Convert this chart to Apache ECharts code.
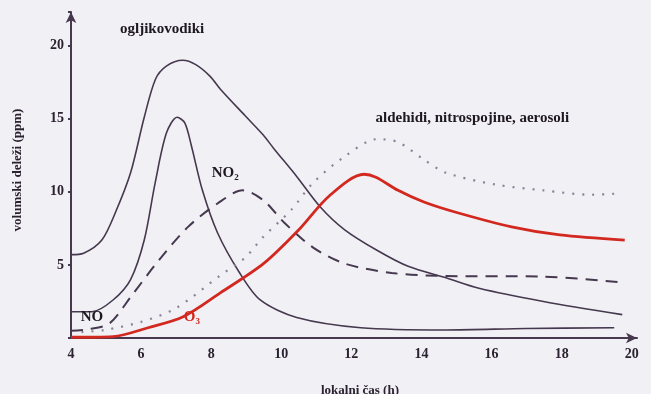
<!DOCTYPE html>
<html><head><meta charset="utf-8">
<script src="https://cdn.jsdelivr.net/npm/echarts@6/dist/echarts.min.js"></script>
<style>html,body{margin:0;padding:0;background:#f1f0f4}#c{width:651px;height:394px}</style>
</head><body><div id="c"></div>
<script>
// hours vs. ppm
const hydrocarbons = [[4,5.7],[4.36,5.8],[4.88,6.7],[5.27,8.6],[5.7,11.3],[6.09,15.1],[6.41,17.7],[6.72,18.6],[7.19,19.0],[7.56,18.7],[7.97,17.9],[8.27,17.0],[8.97,15.2],[9.48,13.9],[9.79,12.95],[10.44,11.05],[11.1,9.0],[11.81,7.4],[12.73,6.0],[13.62,4.9],[14.72,4.1],[15.64,3.4],[17.48,2.5],[19.73,1.6]];
const no = [[4,1.8],[4.6,1.8],[5.2,2.6],[5.7,4.0],[6.09,6.7],[6.4,10.6],[6.72,14.0],[7.03,15.1],[7.25,14.7],[7.44,13.1],[7.75,10.1],[8.18,7.2],[8.8,4.5],[9.4,2.6],[10.44,1.4],[12.27,0.7],[14.7,0.55],[17.0,0.65],[19.5,0.7]];
const no2 = [[4,0.5],[4.5,0.6],[5.1,1.0],[5.7,2.8],[6.5,5.3],[7.34,7.6],[8.18,9.2],[8.9,10.1],[9.5,9.4],[10.08,7.9],[10.9,6.2],[11.8,5.1],[13.15,4.45],[14.5,4.25],[17.48,4.2],[19.7,3.8]];
const o3 = [[4,0.05],[5.2,0.1],[6.2,0.7],[7.2,1.45],[8.27,3.1],[9.5,5.1],[10.5,7.4],[11.36,9.7],[12.36,11.2],[12.7,11.0],[13.33,10.1],[14.07,9.3],[14.98,8.6],[16.57,7.6],[17.95,7.05],[19.8,6.7]];
const aldehydes = [[4.3,0.4],[4.95,0.55],[6.0,1.1],[7.0,2.05],[8.27,4.3],[8.97,5.5],[9.48,6.9],[10.3,8.8],[10.9,10.6],[11.8,12.4],[12.73,13.6],[13.33,13.4],[14.07,12.2],[14.7,11.3],[16.1,10.5],[17.48,10.1],[18.85,9.8],[19.7,9.9]];
const xTicks = [4,6,8,10,12,14,16,18,20];
const yTicks = [5,10,15,20];

const dark = '#45384f';
const serif = '"Liberation Serif", "DejaVu Serif", serif';
const chart = echarts.init(document.getElementById('c'));
function line(data, color, width, type, z){
  return {type:'line', data, smooth:0.3, showSymbol:false, symbol:'none', z:z||2,
    lineStyle:{color, width, type:type||'solid'}};
}
chart.setOption({
  backgroundColor:'#f1f0f4',
  animation:false,
  grid:{left:71, right:14, top:12, bottom:56},
  xAxis:{type:'value', min:4, max:20.15, interval:2,
    axisLine:{lineStyle:{color:dark, width:2}, symbol:['none','arrow'], symbolSize:[8,11]},
    axisTick:{show:false}, splitLine:{show:false},
    axisLabel:{color:'#2a2230', fontFamily:serif, fontWeight:'bold', fontSize:14, margin:9,
      formatter:v=> xTicks.includes(v)? String(v):''}},
  yAxis:{type:'value', min:0, max:22.3, interval:5,
    axisLine:{show:true, lineStyle:{color:dark, width:2}, symbol:['none','arrow'], symbolSize:[8,11]},
    axisTick:{show:true, length:3, lineStyle:{color:dark, width:2}}, splitLine:{show:false},
    axisLabel:{color:'#2a2230', fontFamily:serif, fontWeight:'bold', fontSize:14, margin:7,
      formatter:v=> yTicks.includes(v)? String(v):''}},
  series:[
    line(hydrocarbons, dark, 1.6),
    line(no, dark, 1.6),
    line(no2, dark, 2, [12,8]),
    line(aldehydes, '#8c8298', 2.2, [2,8]),
    line(o3, '#d2281f', 2.8, 'solid', 3)
  ]
});
const labels = [
  {t:'ogljikovodiki', at:[6.6,21.1], c:'#1e1820'},
  {t:'aldehidi, nitrospojine, aerosoli', at:[15.45,15.05], c:'#1e1820'},
  {t:'NO₂', at:[8.4,11.3], c:'#1e1820'},
  {t:'NO', at:[4.6,1.45], c:'#1e1820'},
  {t:'O₃', at:[7.45,1.45], c:'#d2281f'}
];
const g = labels.map(l=>{
  const p = chart.convertToPixel({gridIndex:0}, l.at);
  return {type:'text', x:p[0], y:p[1], z:10,
    style:{text:l.t, fill:l.c, font:'bold 15px '+serif, align:'center', verticalAlign:'middle'}};
});
g.push({type:'text', x:18, y:170, rotation:Math.PI/2, z:10,
  style:{text:'volumski deleži (ppm)', fill:'#2a2230', font:'bold 13px '+serif, align:'center', verticalAlign:'middle'}});
g.push({type:'text', x:360, y:391, z:10,
  style:{text:'lokalni čas (h)', fill:'#2a2230', font:'bold 13px '+serif, align:'center', verticalAlign:'middle'}});
chart.setOption({graphic:g});
</script></body></html>
